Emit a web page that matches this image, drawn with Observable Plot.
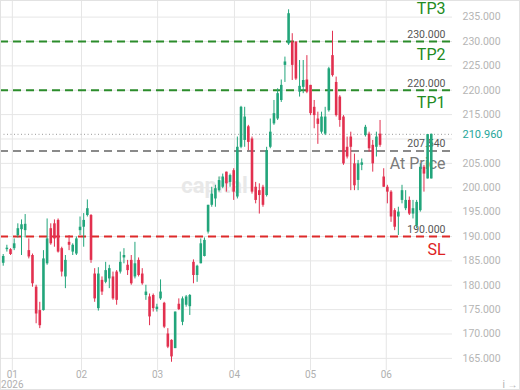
<!DOCTYPE html>
<html><head><meta charset="utf-8">
<script src="https://cdn.jsdelivr.net/npm/d3@7"></script>
<script src="https://cdn.jsdelivr.net/npm/@observablehq/plot@0.6"></script>
<style>
html,body{margin:0;padding:0;background:#fff;}
#chart{width:520px;height:390px;}
#chart svg{outline:1px solid #e2e2e2;outline-offset:-1px;}
</style></head><body><div id="chart"></div>
<script>
// Daily candles (oldest first)
const opens = [184.5,187.3,187.3,187.5,190.2,191.4,191.2,187.1,186.1,179.6,174.8,174.8,184.4,191.6,192.6,193.3,187.5,181.7,188.8,186.8,186.4,191.2,191.9,194.3,194.3,182.3,175.2,181.0,180.6,181.3,181.7,182.7,182.7,185.6,184.1,185.1,181.7,185.1,182.3,177.9,177.6,177.9,175.0,177.2,176.3,170.0,168.7,167.0,176.1,172.4,175.9,175.6,184.7,182.0,184.4,185.9,190.9,196.4,197.7,199.4,200.1,203.2,201.1,203.5,198.1,208.3,209.7,212.5,210.0,200.1,199.4,200.1,198.4,208.3,213.1,214.1,217.9,225.1,229.5,229.9,229.9,219.6,220.6,222.1,221.0,216.5,214.1,211.4,211.0,215.8,227.1,221.6,218.6,214.5,208.3,210.4,204.9,201.5,204.6,210.7,211.0,208.7,208.3,211.0,202.2,200.1,199.1,195.3,194.0,197.4,195.7,197.4,194.6,192.2,195.3,204.2,201.8,201.8];
const highs = [186.3,188.2,187.5,189.5,192.6,193.4,194.5,189.5,186.4,180.0,176.5,187.1,193.6,192.6,193.4,193.6,187.8,186.1,190.2,188.5,189.9,194.0,194.7,197.5,194.5,183.4,183.6,181.7,184.7,184.1,182.7,183.0,186.8,187.5,185.1,186.1,188.8,185.6,183.4,180.0,178.2,178.2,176.1,181.1,176.5,171.1,168.8,174.5,177.2,177.6,177.9,178.1,185.2,184.1,189.5,189.7,196.4,200.1,200.5,202.2,202.8,203.2,202.8,203.9,210.4,216.7,216.5,212.8,210.4,201.1,200.8,200.5,208.3,214.1,217.9,220.3,222.1,226.8,236.5,231.6,229.9,226.1,226.1,227.1,221.0,217.9,215.5,215.5,216.5,224.7,232.1,222.7,218.9,214.8,210.4,211.4,206.9,205.6,205.9,212.8,211.4,209.7,211.4,213.8,203.9,200.5,199.4,195.7,196.0,200.5,199.4,198.1,197.4,197.4,204.9,204.6,210.9,211.0];
const lows = [183.9,186.8,186.1,187.1,189.7,186.1,189.7,185.4,179.6,172.1,171.1,174.7,184.1,188.2,187.8,186.6,181.7,179.3,187.1,186.1,186.1,190.2,187.8,194.0,184.5,176.5,174.7,177.9,180.3,179.3,176.9,175.9,182.3,184.4,182.0,180.0,181.3,181.7,180.0,176.9,171.7,174.5,174.5,176.9,171.1,167.0,164.2,167.0,174.8,171.7,175.5,173.8,180.3,180.6,184.4,185.8,190.5,196.0,196.0,199.1,199.8,199.1,200.1,197.4,197.7,208.0,208.3,207.6,198.7,196.7,194.6,196.0,198.1,208.0,212.8,213.8,217.5,221.6,229.2,222.0,222.0,218.6,219.3,219.3,214.8,212.1,208.9,211.0,210.7,215.5,222.7,214.5,212.4,204.6,205.9,199.4,199.4,199.4,203.5,210.4,207.3,203.2,206.3,208.3,200.1,196.7,192.9,191.2,190.2,196.7,195.3,194.3,193.6,191.6,195.0,199.1,201.8,201.8];
const closes = [185.9,187.6,186.3,188.5,191.6,192.4,192.5,185.8,180.3,174.1,171.7,185.4,189.5,188.5,189.5,186.8,182.7,185.1,188.2,188.2,189.5,191.9,193.3,195.7,185.1,177.2,182.3,178.6,183.0,183.4,177.2,176.9,184.7,186.1,183.0,180.3,184.4,182.0,180.3,178.6,173.5,175.2,175.5,178.6,171.4,167.3,165.3,174.5,175.0,177.2,177.6,177.9,182.0,183.9,188.5,189.2,196.4,198.7,199.8,201.5,202.2,200.8,202.5,199.1,208.3,216.5,214.5,209.3,199.1,197.4,198.4,196.4,207.6,211.4,215.2,219.3,221.0,225.8,235.7,225.1,222.3,220.8,222.0,219.6,215.2,214.8,213.0,214.5,214.5,224.4,223.0,214.8,213.8,204.9,206.3,208.3,200.4,204.9,205.1,212.4,208.0,204.9,210.4,208.7,200.1,199.1,194.0,191.9,195.0,199.4,197.4,194.6,195.7,197.0,204.2,202.8,210.9,210.96];

// Month ticks (positions in candle index units) and their labels
const monthPos = [2.5, 21.4, 42.2, 63.2, 84.0, 104.7];
const monthLabels = ["01\n2026", "02", "03", "04", "05", "06"];

// Price ticks
const yTicks = [165,170,175,180,185,190,195,200,205,210,215,220,225,230,235];

// Trade levels
const levelNames = ["TP3", "TP2", "TP1", "At Price", "SL"];
const levelPrices = [240, 230, 220, 207.54, 190];
const levelKinds = ["tp", "tp", "tp", "at", "sl"];
const lastPrice = 210.96;

const GREEN = "#22a57b", RED = "#e2304f";
const kindColor = {tp: "#2b8c2b", sl: "#dd2a2a", at: "#8a8a8a"};
const nameColor = {tp: "#228b22", sl: "#dd2222", at: "#7a7a7a"};

const candles = opens.map((o, i) => ({i, open: o, high: highs[i], low: lows[i], close: closes[i]}));
const levels = levelPrices.map((p, k) => ({price: p, name: levelNames[k], kind: levelKinds[k]}));
const yDomain = [162.51, 238.41];
const inView = d => d.price > yDomain[0] && d.price < yDomain[1];
const monthMap = new Map(monthPos.map((p, k) => [p, monthLabels[k]]));
const col = d => d.close >= d.open ? GREEN : RED;

const chart = Plot.plot({
  width: 520, height: 390,
  marginLeft: 0, marginRight: 68, marginTop: 0, marginBottom: 20,
  style: {fontFamily: "Roboto, 'Noto Sans', sans-serif", background: "#fff", overflow: "hidden"},
  color: {type: "identity"},
  x: {domain: [-0.74, 122.8], axis: null},
  y: {domain: yDomain, axis: null},
  marks: [
    Plot.gridY(yTicks, {stroke: "#e6e6e6", strokeOpacity: 1}),
    Plot.gridX(monthPos, {stroke: "#e6e6e6", strokeOpacity: 1}),
    Plot.axisX(monthPos, {tickSize: 0, tickPadding: 0, tickFormat: d => monthMap.get(d), fill: "#b0b0b0", fontSize: 10}),
    Plot.axisY(yTicks.filter(t => Math.abs(t - lastPrice) > 2), {anchor: "right", tickSize: 0, tickPadding: 10, tickFormat: d => d.toFixed(3), fill: "#b5b5b5", fontSize: 10.5}),
    Plot.text(["capital"], {frameAnchor: "middle", dx: -12, dy: 0, text: d => d, fill: "#e8e8e8", fontSize: 22, fontWeight: "bold"}),
    Plot.ruleY([lastPrice], {y: d => d, stroke: "#9a9a9a", strokeDasharray: "1,2.5"}),
    Plot.text(levels.filter(inView), {frameAnchor: "right", y: "price", text: d => d.price.toFixed(3), dx: -7, dy: -7, textAnchor: "end", fill: "#555", fontSize: 10.5}),
    Plot.text(levels.filter(inView), {frameAnchor: "right", y: "price", text: "name", dx: -7, dy: 13, textAnchor: "end", fill: d => nameColor[d.kind], fontSize: 16}),
    // levels above the visible range keep their name pinned to the top edge
    Plot.text(levels.filter(d => !inView(d)), {frameAnchor: "top-right", text: "name", dx: -7, dy: 2, lineAnchor: "top", textAnchor: "end", fill: d => nameColor[d.kind], fontSize: 16}),
    Plot.ruleY(levels.filter(inView), {y: "price", stroke: d => kindColor[d.kind], strokeWidth: 2, strokeDasharray: "8,5"}),
    Plot.ruleX(candles, {x: "i", y1: "low", y2: "high", stroke: col, strokeWidth: 1}),
    Plot.ruleX(candles, {x: "i", y1: "open", y2: "close", stroke: col, strokeWidth: 2.6}),
    Plot.text([lastPrice], {frameAnchor: "right", y: d => d, text: d => d.toFixed(3), dx: 10, textAnchor: "start", fill: "#26a69a", fontSize: 11})
  ]
});
document.getElementById("chart").appendChild(chart);
</script>
</body></html>
